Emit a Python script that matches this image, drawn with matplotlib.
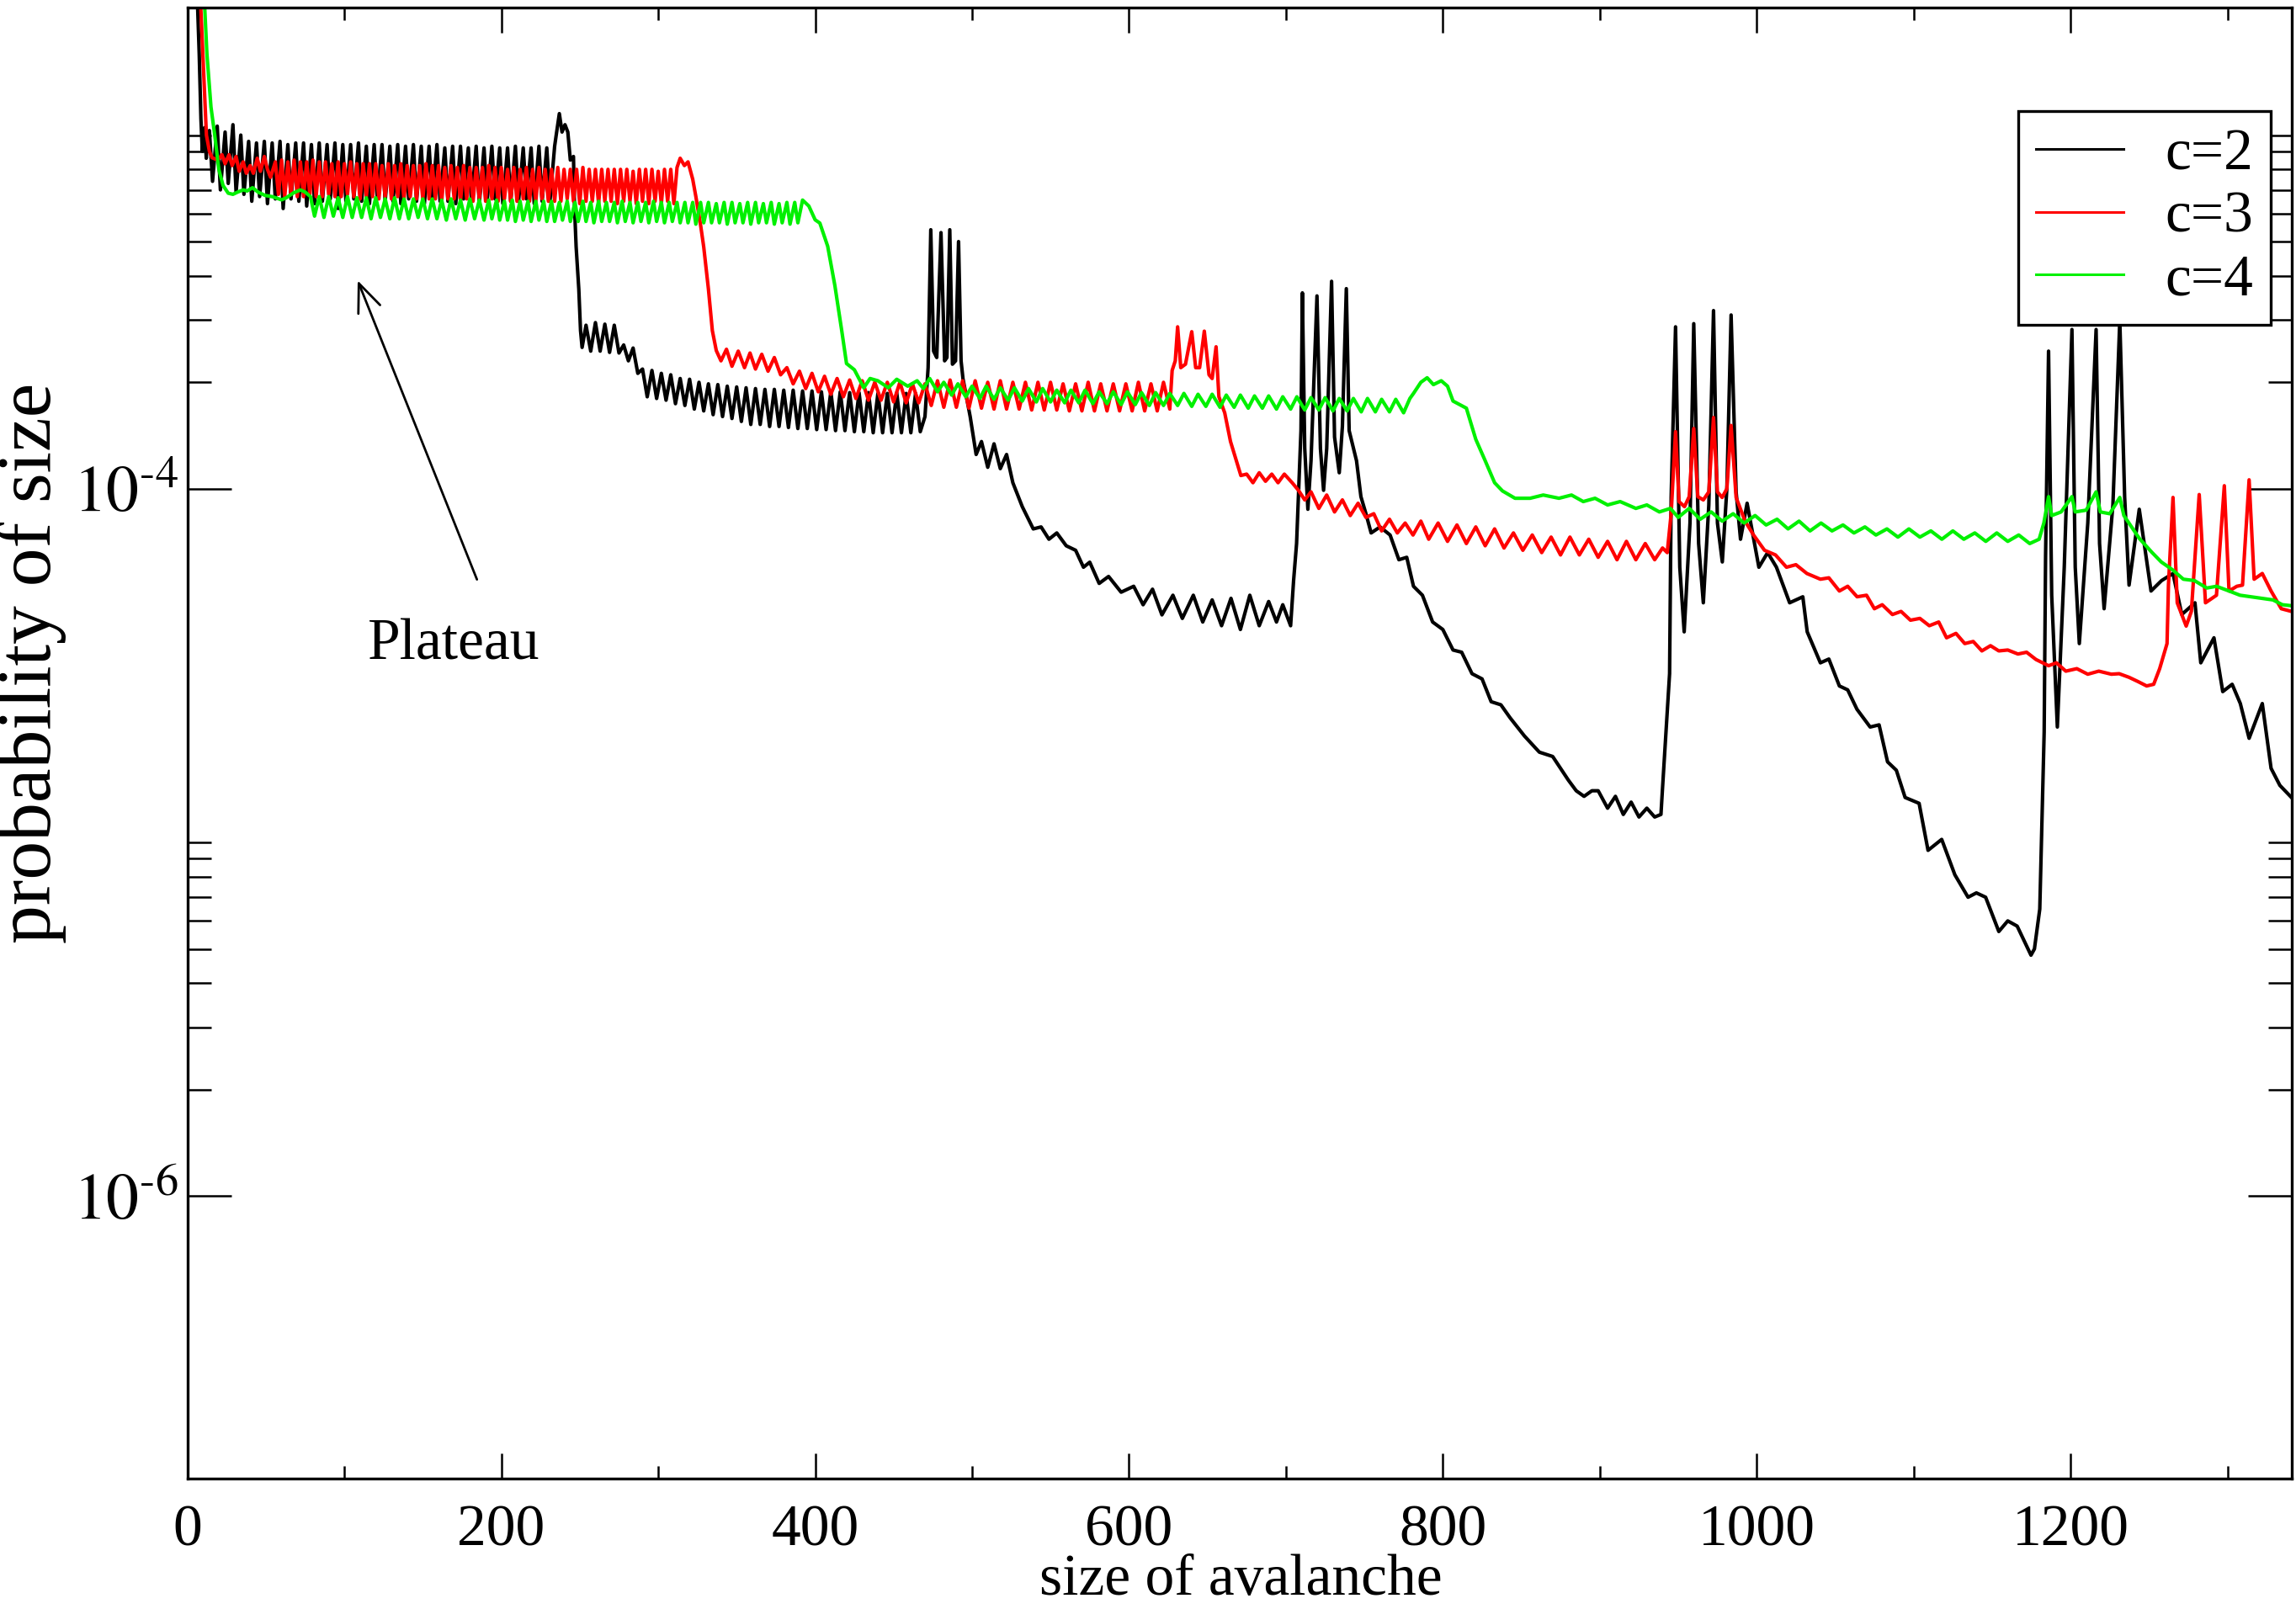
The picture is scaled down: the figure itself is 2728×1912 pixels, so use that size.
import matplotlib
matplotlib.use("Agg")
import matplotlib.pyplot as plt
from matplotlib.ticker import FixedLocator, FixedFormatter, NullFormatter, MultipleLocator
import numpy as np

plt.rcParams['font.family'] = ['Liberation Serif', 'DejaVu Serif']
plt.rcParams['mathtext.fontset'] = 'stix'

# ---------------- data (probabilities given in units of 1e-4) ----------------
PROB_UNIT = 1e-4
series_labels = ['c=2', 'c=3', 'c=4']

c2_size = [
    3, 5.5, 6.5, 7.5, 8.6, 9.5, 11, 12, 13, 14,
    16, 19, 21, 24, 26, 29, 31, 34, 36,
    39, 41, 44, 46, 49, 51, 54, 56, 59, 61,
    64, 66, 69, 71, 74, 76, 79, 81, 84, 86,
    89, 91, 94, 96, 99, 101, 104, 106, 109, 111,
    114, 116, 119, 121, 124, 126, 129, 131, 134, 136,
    139, 141, 144, 146, 149, 151, 154, 156, 159, 161,
    164, 166, 169, 171, 174, 176, 179, 181, 184, 186,
    189, 191, 194, 196, 199, 201, 204, 206, 209, 211,
    214, 216, 219, 221, 224, 226, 229, 231, 234,
    235, 237, 238.7, 240.6, 242.4, 244, 246, 246.7, 247.7, 249.4,
    250.5, 251.5,
    254, 257, 260, 263, 266, 269, 272, 275, 278, 281,
    284, 287, 290, 293, 296, 299, 302, 305, 308, 311,
    314, 317, 320, 323, 326, 329, 332, 335, 338, 341,
    344, 347, 350, 353, 356, 359, 362, 365, 368, 371,
    374, 377, 380, 383, 386, 389, 392, 395, 398, 401,
    404, 407, 410, 413, 416, 419, 422, 425, 428, 431,
    434, 437, 440, 443, 446, 449, 452, 455, 458, 461,
    464, 467,
    470, 472, 473.7, 475.5, 477.5, 480.2, 482.5, 484, 485.8, 487.5,
    489.5, 491.4, 493, 494.2, 498.8, 502.6, 506, 510, 514, 518,
    522, 526, 532, 539, 544, 549, 554, 560, 566, 571,
    575, 581, 587, 595, 603, 609, 615, 621, 628, 634,
    641, 647, 653, 659, 665, 671, 677, 683, 689, 694,
    698, 703,
    704.9, 706.8, 709.6, 710.5, 712, 714, 716, 719.8, 722, 724,
    726, 729.1, 731, 734, 736, 738.5, 740.3, 745, 747.8, 751,
    754.3, 760, 766.4, 772, 777, 781.3, 787, 793.5, 800, 806.5,
    812, 818.6, 825, 830.8, 837, 842.9, 852, 861.5, 870, 880,
    885, 890, 895, 899, 905, 910, 915, 920, 925, 930,
    935, 939,
    939.9, 944.5, 945.5, 948.3, 951, 953.8, 957.5, 959.9, 963, 966,
    969.5, 972.5, 975, 978.1, 981, 983.7, 986.9, 989.7, 993.9, 1001.4,
    1007, 1012.6, 1021, 1029.4, 1032.2, 1040.6, 1046, 1052.7, 1058, 1063.9,
    1072.3, 1078, 1083.4, 1089, 1094.6, 1103.5, 1109.2, 1117.9, 1126.3, 1134.7,
    1140, 1145.9, 1154.3, 1160, 1166, 1174.8,
    1177, 1180.4, 1183.2, 1184.1, 1186, 1188, 1191.6, 1196, 1200.9, 1203,
    1205.6, 1211, 1216.3, 1218.5, 1221.4, 1227, 1231.4, 1234.5, 1237.3, 1243.8,
    1251.3, 1258, 1265.3, 1270.9, 1279.3, 1283, 1291.4, 1297, 1303, 1308.2,
    1313.8, 1322.2, 1327.8, 1333.4, 1340.8,
]
c2_prob = [
    200, 60, 23, 17, 11.1, 9.0, 10.5, 8.6, 10.2, 10.3,
    7.4, 10.6, 7.0, 10.2, 7.3, 10.7, 6.9, 10.0, 6.8,
    9.6, 6.5, 9.5, 6.7, 9.6, 6.4, 9.5, 6.6, 9.6, 6.2,
    9.4, 6.6, 9.5, 6.5, 9.5, 6.3, 9.4, 6.4, 9.5, 6.5,
    9.4, 6.6, 9.5, 6.2, 9.4, 6.5, 9.4, 6.6, 9.5, 6.5,
    9.3, 6.4, 9.4, 6.6, 9.4, 6.5, 9.3, 6.5, 9.4, 6.4,
    9.3, 6.6, 9.4, 6.5, 9.3, 6.4, 9.3, 6.6, 9.4, 6.5,
    9.2, 6.5, 9.3, 6.4, 9.3, 6.6, 9.2, 6.5, 9.3, 6.4,
    9.2, 6.5, 9.3, 6.6, 9.2, 6.4, 9.2, 6.5, 9.3, 6.5,
    9.2, 6.6, 9.2, 6.4, 9.3, 6.5, 9.2, 6.5, 9.3,
    10.0, 11.5, 10.2, 10.7, 10.2, 8.5, 8.7, 6.2, 4.83, 3.67,
    2.80, 2.51,
    2.9, 2.45, 2.95, 2.45, 2.92, 2.43, 2.9, 2.42, 2.55, 2.3,
    2.5, 2.12, 2.18, 1.82, 2.16, 1.80, 2.12, 1.78, 2.10, 1.74,
    2.05, 1.72, 2.04, 1.68, 2.0, 1.66, 1.98, 1.62, 1.97, 1.60,
    1.95, 1.58, 1.94, 1.55, 1.93, 1.52, 1.92, 1.52, 1.91, 1.50,
    1.91, 1.50, 1.90, 1.49, 1.90, 1.48, 1.89, 1.48, 1.89, 1.47,
    1.88, 1.47, 1.88, 1.46, 1.88, 1.46, 1.87, 1.45, 1.87, 1.45,
    1.87, 1.44, 1.86, 1.44, 1.86, 1.44, 1.87, 1.44, 1.86, 1.44,
    1.86, 1.45,
    1.6, 2.2, 5.4, 2.45, 2.35, 5.3, 2.3, 2.35, 5.4, 2.25,
    2.3, 5.0, 2.3, 2.05, 1.60, 1.25, 1.36, 1.15, 1.34, 1.14,
    1.25, 1.04, 0.89, 0.77, 0.78, 0.72, 0.75, 0.69, 0.67, 0.60,
    0.62, 0.54, 0.565, 0.51, 0.53, 0.47, 0.52, 0.44, 0.50, 0.43,
    0.50, 0.42, 0.485, 0.41, 0.49, 0.40, 0.50, 0.41, 0.48, 0.42,
    0.47, 0.41,
    0.55, 0.70, 1.46, 3.58, 1.3, 0.875, 1.2, 3.51, 1.3, 0.99,
    1.3, 3.86, 1.4, 1.11, 1.5, 3.68, 1.46, 1.20, 0.95, 0.85,
    0.75, 0.78, 0.74, 0.63, 0.64, 0.53, 0.50, 0.42, 0.40, 0.35,
    0.345, 0.30, 0.29, 0.25, 0.245, 0.225, 0.20, 0.18, 0.175, 0.15,
    0.14, 0.135, 0.14, 0.14, 0.125, 0.135, 0.12, 0.13, 0.118, 0.125,
    0.118, 0.12,
    0.14, 0.30, 0.945, 2.87, 0.6, 0.394, 0.8, 2.93, 0.7, 0.476,
    0.9, 3.19, 0.8, 0.621, 1.0, 3.1, 0.98, 0.72, 0.91, 0.60,
    0.66, 0.60, 0.476, 0.495, 0.394, 0.322, 0.33, 0.277, 0.27, 0.238,
    0.212, 0.215, 0.169, 0.16, 0.134, 0.129, 0.095, 0.102, 0.081, 0.070,
    0.072, 0.070, 0.056, 0.060, 0.058, 0.048,
    0.05, 0.0648, 0.205, 0.645, 2.45, 0.5, 0.212, 0.6, 2.82, 0.6,
    0.365, 0.8, 2.82, 0.7, 0.458, 0.9, 2.99, 0.945, 0.534, 0.875,
    0.514, 0.55, 0.576, 0.441, 0.476, 0.322, 0.379, 0.267, 0.28, 0.247,
    0.197, 0.247, 0.162, 0.145, 0.134,
]

c3_size = [
    7.5, 8.5, 9.8, 12.1, 14, 15.7, 19.3, 22, 24, 26.5,
    28.5, 31, 33, 35.5, 37.5, 40, 42, 44.5, 46.5, 49,
    51, 53,
    56, 58, 60, 62, 64, 66, 68, 70, 72, 74,
    76, 78, 80, 82, 84, 86, 88, 90, 92, 94,
    96, 98, 100, 102, 104, 106, 108, 110, 112, 114,
    116, 118, 120, 122, 124, 126, 128, 130, 132, 134,
    136, 138, 140, 142, 144, 146, 148, 150, 152, 154,
    156, 158, 160, 162, 164, 166, 168, 170, 172, 174,
    176, 178, 180, 182, 184, 186, 188, 190, 192, 194,
    196, 198, 200, 202, 204, 206, 208, 210, 212, 214,
    216, 218, 220, 222, 224, 226, 228, 230, 232, 234,
    236, 238, 240, 242, 244, 246, 248, 250, 252, 254,
    256, 258, 260, 262, 264, 266, 268, 270, 272, 274,
    276, 278, 280, 282, 284, 286, 288, 290, 292, 294,
    296, 298, 300, 302, 304, 306, 308, 310, 312,
    314, 316.7, 319, 322, 324, 327, 329, 332, 334.5, 337,
    340, 343.5, 347, 351, 355, 358.5, 362, 366, 370, 374,
    378, 382, 386, 390, 394, 398, 402, 406, 410, 414,
    418, 422, 426, 430, 434, 438, 442, 446, 450, 454,
    458, 462, 466, 470,
    474, 478, 482, 486, 490, 494, 498, 502, 506, 510,
    514, 518, 522, 526, 530, 534, 538, 542, 546, 550,
    554, 558, 562, 566, 570, 574, 578, 582, 586, 590,
    594, 598, 602, 606, 610, 614, 618, 622, 626,
    627.5, 629.5, 631, 633, 636, 640, 642.5, 645, 648, 651,
    653, 655.5, 657.3, 661, 664.7, 671.3, 675, 679, 683, 687,
    691, 695, 699, 704, 708, 712, 716, 721, 726, 731,
    736, 741, 746, 751, 756, 761, 766, 771, 776, 781,
    786, 791, 797, 803, 809, 815, 821, 827, 833, 839,
    845, 851, 857, 863, 869, 875, 881, 887, 893, 899,
    905, 911, 917, 923, 929, 935, 940,
    943, 945.5, 948.3, 950.5, 954, 957, 959.9, 962.5, 966, 969.5,
    972.5, 975, 978, 981, 983.7, 986.9, 992.6, 998, 1005, 1012,
    1019, 1025, 1032, 1040.6, 1046, 1052.7, 1058, 1064, 1070, 1075,
    1080, 1086.5, 1092, 1098, 1104, 1110, 1116, 1121, 1127, 1132.6,
    1138, 1143.5, 1149, 1154.3, 1160, 1166.5, 1172, 1178, 1186, 1191,
    1197, 1204, 1211, 1218, 1226, 1231, 1237.3, 1243, 1248.5, 1253,
    1256.8, 1261.5, 1262.4, 1265.3, 1268, 1273.7, 1277, 1282, 1286, 1293,
    1298, 1301, 1306, 1309.6, 1313.8, 1317, 1322.2, 1327.8, 1334.3, 1340.8,
]
c3_prob = [
    200, 23, 17, 10.0, 9.0, 8.63, 8.5, 8.8, 8.3, 8.8,
    8.2, 8.7, 7.9, 8.4, 7.8, 8.2, 7.8, 8.6, 7.9, 8.7,
    8.0, 7.6,
    8.4, 6.8, 8.5, 6.7, 8.4, 6.8, 8.5, 6.7, 8.4, 6.7,
    8.4, 6.8, 8.5, 6.7, 8.4, 6.7, 8.4, 6.8, 8.3, 6.7,
    8.4, 6.7, 8.3, 6.8, 8.4, 6.7, 8.3, 6.6, 8.3, 6.7,
    8.3, 6.7, 8.3, 6.6, 8.2, 6.7, 8.3, 6.6, 8.2, 6.7,
    8.3, 6.6, 8.2, 6.7, 8.2, 6.6, 8.2, 6.6, 8.3, 6.6,
    8.2, 6.6, 8.2, 6.5, 8.1, 6.6, 8.2, 6.6, 8.1, 6.5,
    8.2, 6.6, 8.1, 6.5, 8.1, 6.6, 8.1, 6.5, 8.2, 6.6,
    8.1, 6.5, 8.1, 6.6, 8.0, 6.5, 8.1, 6.5, 8.0, 6.6,
    8.1, 6.5, 8.0, 6.5, 8.1, 6.6, 8.0, 6.5, 8.0, 6.5,
    8.1, 6.5, 8.0, 6.6, 8.0, 6.5, 8.0, 6.4, 8.1, 6.5,
    8.0, 6.5, 8.0, 6.4, 8.0, 6.5, 8.0, 6.5, 8.0, 6.4,
    8.0, 6.5, 8.0, 6.5, 7.9, 6.4, 8.0, 6.5, 8.0, 6.4,
    8.0, 6.5, 7.9, 6.4, 8.0, 6.5, 8.0, 6.4, 8.1,
    8.6, 8.2, 8.4, 7.5, 6.7, 5.57, 4.83, 3.67, 2.8, 2.46,
    2.3, 2.48, 2.22, 2.45, 2.2, 2.42, 2.18, 2.4, 2.15, 2.35,
    2.1, 2.2, 1.98, 2.15, 1.92, 2.12, 1.88, 2.08, 1.85, 2.05,
    1.82, 2.03, 1.80, 2.02, 1.78, 2.0, 1.78, 2.0, 1.76, 2.0,
    1.75, 1.98, 1.75, 1.98,
    1.72, 2.02, 1.70, 2.03, 1.70, 2.02, 1.69, 2.02, 1.69, 2.0,
    1.68, 2.02, 1.68, 2.0, 1.68, 2.0, 1.67, 2.0, 1.67, 2.0,
    1.67, 1.98, 1.66, 1.98, 1.66, 2.0, 1.66, 1.98, 1.66, 1.98,
    1.66, 1.98, 1.66, 2.0, 1.66, 1.98, 1.66, 2.0, 1.68,
    2.16, 2.3, 2.87, 2.2, 2.25, 2.78, 2.2, 2.2, 2.79, 2.1,
    2.05, 2.52, 1.82, 1.64, 1.36, 1.09, 1.10, 1.04, 1.11, 1.05,
    1.10, 1.04, 1.10, 1.04, 0.99, 0.93, 0.98, 0.88, 0.96, 0.86,
    0.93, 0.84, 0.91, 0.83, 0.85, 0.76, 0.82, 0.75, 0.80, 0.74,
    0.81, 0.72, 0.80, 0.71, 0.79, 0.70, 0.78, 0.69, 0.77, 0.68,
    0.75, 0.67, 0.74, 0.66, 0.73, 0.65, 0.73, 0.65, 0.72, 0.64,
    0.71, 0.63, 0.71, 0.63, 0.70, 0.63, 0.68,
    0.66, 0.85, 1.45, 0.92, 0.89, 0.95, 1.48, 0.95, 0.93, 0.98,
    1.59, 0.98, 0.945, 1.0, 1.51, 0.945, 0.81, 0.74, 0.67, 0.65,
    0.60, 0.61, 0.576, 0.555, 0.56, 0.514, 0.53, 0.495, 0.50, 0.458,
    0.47, 0.441, 0.45, 0.425, 0.43, 0.41, 0.42, 0.379, 0.39, 0.365,
    0.37, 0.348, 0.36, 0.348, 0.35, 0.341, 0.345, 0.329, 0.316, 0.322,
    0.305, 0.31, 0.299, 0.305, 0.299, 0.30, 0.293, 0.285, 0.277, 0.28,
    0.31, 0.365, 0.534, 0.945, 0.476, 0.409, 0.45, 0.963, 0.476, 0.50,
    1.02, 0.514, 0.53, 0.534, 1.06, 0.555, 0.576, 0.514, 0.458, 0.45,
]

c4_size = [
    10, 11, 12.4, 15, 17.4, 20, 22.7, 26, 29, 32,
    35.5, 38, 41.5, 45, 49.5, 54, 60, 63, 67.5, 72,
    75, 78.4,
    81, 84, 87, 90, 93, 96, 99, 102, 105, 108,
    111, 114, 117, 120, 123, 126, 129, 132, 135, 138,
    141, 144, 147, 150, 153, 156, 159, 162, 165, 168,
    171, 174, 177, 180, 183, 186,
    189, 192, 194, 197, 199, 202, 204, 207, 209, 212,
    214, 217, 219, 222, 224, 227, 229, 232, 234, 237,
    239, 242, 244, 247, 249, 252, 254, 257, 259, 262,
    264, 267, 269, 272, 274, 277, 279, 282, 284, 287,
    289, 292, 294, 297, 299, 302, 304, 307, 309, 312,
    314, 317, 319, 322, 324, 327, 329, 332, 334, 337,
    339, 342, 344, 347, 349, 352, 354, 357, 359, 362,
    364, 367, 369, 372, 374, 377, 379, 382, 384, 387,
    389, 392,
    396, 400, 403, 408, 412.6, 417, 420, 425, 431, 435,
    440, 446.6, 452, 459, 465,
    469, 473, 478, 482, 487, 491, 496, 500, 505, 509,
    514, 518, 523, 527, 532, 536, 541, 545, 550, 554,
    559, 563, 568, 572, 577, 581, 586, 590, 595, 599,
    604, 608, 613, 617, 622, 626, 631, 635, 640, 644,
    649, 653, 658, 662, 667, 671, 676, 680, 685, 689,
    694, 698, 703, 707, 712, 716, 721, 725, 730, 734,
    739, 743, 748, 752, 757, 761, 766, 770, 775, 779,
    781.3, 786, 790, 794, 799, 803, 806.5, 815, 821, 827,
    833, 838, 846, 855.6, 864, 874, 882, 889.5, 897, 905,
    913, 923, 930, 938, 945,
    950, 957, 964, 971, 978, 985, 992, 999, 1006, 1013,
    1020, 1027, 1034, 1041, 1048, 1055, 1062, 1069, 1076, 1083,
    1090, 1097, 1104, 1111, 1118, 1125, 1132, 1139, 1146, 1153,
    1160, 1167, 1174, 1180,
    1183, 1186, 1188, 1194, 1200.9, 1203, 1210, 1216.3, 1219, 1225,
    1231.4, 1234, 1243.8, 1252, 1257.8, 1265, 1271.9, 1279, 1286.8, 1293,
    1301, 1308, 1315, 1322, 1329, 1335, 1340.8,
]
c4_prob = [
    200, 23, 17, 12, 10.0, 8.0, 7.2, 6.85, 6.8, 6.9,
    7.0, 6.95, 7.1, 6.9, 6.75, 6.7, 6.56, 6.65, 6.86, 7.0,
    6.9, 6.7,
    5.9, 6.7, 5.85, 6.7, 5.9, 6.65, 5.85, 6.7, 5.85, 6.65,
    5.85, 6.65, 5.8, 6.65, 5.85, 6.6, 5.8, 6.65, 5.8, 6.6,
    5.8, 6.6, 5.85, 6.6, 5.8, 6.6, 5.8, 6.55, 5.75, 6.6,
    5.8, 6.55, 5.75, 6.6, 5.8, 6.55,
    5.75, 6.55, 5.8, 6.55, 5.75, 6.5, 5.75, 6.55, 5.7, 6.5,
    5.75, 6.5, 5.7, 6.5, 5.75, 6.5, 5.7, 6.5, 5.7, 6.45,
    5.75, 6.5, 5.7, 6.45, 5.7, 6.5, 5.7, 6.45, 5.65, 6.5,
    5.7, 6.45, 5.7, 6.45, 5.65, 6.5, 5.7, 6.45, 5.65, 6.45,
    5.7, 6.45, 5.65, 6.5, 5.7, 6.45, 5.65, 6.45, 5.7, 6.45,
    5.65, 6.45, 5.65, 6.45, 5.6, 6.45, 5.65, 6.45, 5.65, 6.4,
    5.65, 6.45, 5.6, 6.45, 5.65, 6.4, 5.65, 6.45, 5.6, 6.45,
    5.65, 6.4, 5.65, 6.45, 5.6, 6.4, 5.65, 6.45, 5.6, 6.45,
    5.65, 6.55,
    6.3, 5.76, 5.64, 4.85, 3.75, 2.79, 2.26, 2.17, 1.93, 2.05,
    2.02, 1.93, 2.04, 1.95, 2.02,
    1.92, 2.05, 1.88, 2.0, 1.84, 1.98, 1.82, 1.95, 1.80, 1.95,
    1.79, 1.93, 1.78, 1.93, 1.77, 1.92, 1.76, 1.92, 1.76, 1.90,
    1.75, 1.90, 1.75, 1.90, 1.74, 1.88, 1.74, 1.88, 1.73, 1.88,
    1.73, 1.87, 1.72, 1.87, 1.72, 1.86, 1.72, 1.86, 1.71, 1.85,
    1.71, 1.85, 1.70, 1.84, 1.70, 1.84, 1.69, 1.83, 1.69, 1.83,
    1.68, 1.82, 1.68, 1.82, 1.67, 1.81, 1.67, 1.81, 1.66, 1.80,
    1.66, 1.80, 1.65, 1.80, 1.65, 1.79, 1.65, 1.79, 1.64, 1.80,
    1.86, 2.0, 2.06, 1.97, 2.02, 1.95, 1.77, 1.69, 1.38, 1.2,
    1.04, 0.986, 0.94, 0.94, 0.96, 0.94, 0.96, 0.92, 0.94, 0.90,
    0.92, 0.88, 0.90, 0.86, 0.88,
    0.83, 0.88, 0.82, 0.86, 0.81, 0.85, 0.80, 0.84, 0.79, 0.82,
    0.77, 0.81, 0.76, 0.80, 0.76, 0.79, 0.75, 0.78, 0.74, 0.77,
    0.73, 0.77, 0.73, 0.76, 0.72, 0.76, 0.72, 0.75, 0.71, 0.75,
    0.71, 0.74, 0.70, 0.72,
    0.80, 0.95, 0.84, 0.86, 0.95, 0.86, 0.87, 0.98, 0.86, 0.85,
    0.945, 0.84, 0.724, 0.66, 0.621, 0.59, 0.555, 0.55, 0.524, 0.53,
    0.514, 0.50, 0.495, 0.49, 0.485, 0.47, 0.467,
]

x_major_ticks = [0, 200, 400, 600, 800, 1000, 1200]
y_major_ticks = [1e-6, 1e-4]
y_major_labels = ['$10^{\\text{-}6}$', '$10^{\\text{-}4}$']
y_minor_ticks = [2e-6, 3e-6, 4e-6, 5e-6, 6e-6, 7e-6, 8e-6, 9e-6, 1e-5,
                 2e-4, 3e-4, 4e-4, 5e-4, 6e-4, 7e-4, 8e-4, 9e-4, 1e-3]
x_label = 'size of avalanche'
y_label = 'probability of size'
note_text = 'Plateau'

# ---------------- figure ----------------
W, H, DPI = 2728, 1912, 200
fig = plt.figure(figsize=(W / DPI, H / DPI), dpi=DPI)
L, R, T, B = 222.7, 2723.0, 8.5, 1757.0
ax = fig.add_axes([L / W, 1 - B / H, (R - L) / W, (B - T) / H])
ax.set_yscale('log')

colors = ['#000000', '#ff0000', '#00f000']
for sz, pr, lab, col in zip([c2_size, c3_size, c4_size],
                            [c2_prob, c3_prob, c4_prob],
                            series_labels, colors):
    ax.plot(sz, np.asarray(pr) * PROB_UNIT, color=col, lw=1.5, label=lab)

ax.set_xlim(0, 1341)
ax.set_ylim(1.59e-7, 2.30e-3)

ax.xaxis.set_major_locator(FixedLocator(x_major_ticks))
ax.xaxis.set_minor_locator(MultipleLocator(100))
ax.yaxis.set_major_locator(FixedLocator(y_major_ticks))
ax.yaxis.set_major_formatter(FixedFormatter(y_major_labels))
ax.yaxis.set_minor_locator(FixedLocator(y_minor_ticks))
ax.yaxis.set_minor_formatter(NullFormatter())

ax.tick_params(axis='x', which='major', direction='in', length=10.8, width=0.9,
               top=True, labelsize=25, pad=11)
ax.tick_params(axis='x', which='minor', direction='in', length=5.4, width=0.9, top=True)
ax.tick_params(axis='y', which='major', direction='in', length=18.8, width=0.9,
               right=True, labelsize=28, pad=4)
ax.tick_params(axis='y', which='minor', direction='in', length=10.0, width=0.9, right=True)
for sp in ax.spines.values():
    sp.set_linewidth(1.2)

leg = ax.legend(loc='upper left', bbox_to_anchor=(2397.7 / W, 1 - 131.7 / H),
                bbox_transform=fig.transFigure, frameon=True, fancybox=False,
                framealpha=1, edgecolor='black', fontsize=25, handlelength=1.5,
                handletextpad=0.72, labelspacing=0.16, borderpad=0.3,
                borderaxespad=0)
leg.get_frame().set_linewidth(1.2)
for ln in leg.get_lines():
    ln.set_linewidth(1.1)

ax.annotate('', xy=(108.5, 3.88e-4), xytext=(184.5, 5.54e-5),
            arrowprops=dict(arrowstyle='->,head_length=0.6,head_width=0.25',
                            lw=1.0, color='black', shrinkA=0, shrinkB=0,
                            mutation_scale=20))
ax.text(115, 3.30e-5, note_text, fontsize=25, ha='left', va='baseline')

fig.text(1474 / W, 1 - 1895 / H, x_label, ha='center', va='baseline', fontsize=25)
fig.text(38 / W, 1 - 788 / H, y_label, rotation=90, ha='center', va='center', fontsize=33)

fig.savefig('out.png', dpi=DPI)
